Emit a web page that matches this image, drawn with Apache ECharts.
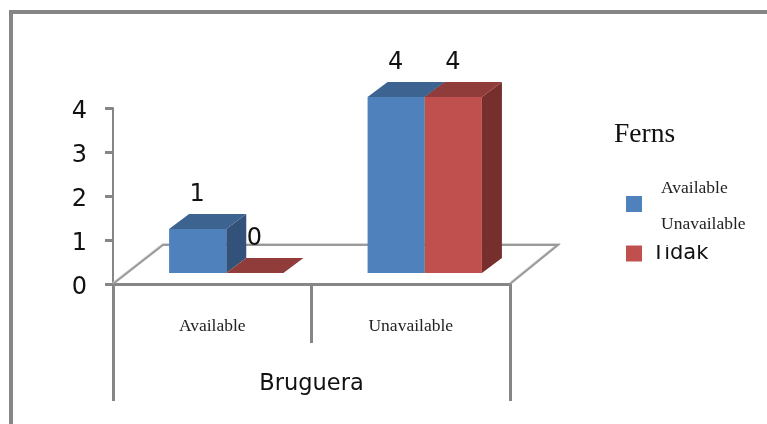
<!DOCTYPE html>
<html><head><meta charset="utf-8">
<style>html,body{margin:0;padding:0;background:#fff}#c{width:767px;height:424px}</style>
<script src="https://cdn.jsdelivr.net/npm/echarts@6/dist/echarts.min.js"></script>
</head><body><div id="c"></div>
<script>
var categories = ['Available', 'Unavailable'];
var groupLabels = ['Bruguera'];
var seriesNames = ['Available', 'Tidak'];
var availableValues = [1, 4];
var tidakValues = [0, 4];
var yTicks = [0, 1, 2, 3, 4];
var legendTitle = 'Ferns';
var overlayLegendText = 'Unavailable';

var GREY = '#868686';
var SANS = '"DejaVu Sans"';
var SERIF = '"Liberation Serif"';
var DX = 20, DY = -15, FRONT = -11, BAR = 0.288, SHIFT = 14;

function poly(pts, fill) {
  return {type: 'polygon', shape: {points: pts}, style: {fill: fill}};
}
function barRender(seriesIndex, face, top, side) {
  return function (params, api) {
    var idx = api.value(0), val = api.value(1);
    var base = api.coord([idx, 0]), head = api.coord([idx, val]);
    var w = api.size([1, 0])[0] * BAR;
    var x0 = base[0] + SHIFT + (seriesIndex === 0 ? -w : 0), x1 = x0 + w;
    var yb = base[1] + FRONT, yt = head[1] + FRONT;
    var children = [];
    if (val > 0) {
      children.push(poly([[x1, yb], [x1 + DX, yb + DY], [x1 + DX, yt + DY], [x1, yt]], side));
      children.push(poly([[x0, yb], [x1, yb], [x1, yt], [x0, yt]], face));
    }
    children.push(poly([[x0, yt], [x1, yt], [x1 + DX, yt + DY], [x0 + DX, yt + DY]], top));
    children.push({type: 'text', z2: 20, style: {
      text: String(val), x: (x0 + x1) / 2 - 0.5, y: yt - 34,
      align: 'center', verticalAlign: 'middle',
      font: '24px ' + SANS, fill: '#111'
    }});
    return {type: 'group', children: children};
  };
}
function floorRender(params, api) {
  var a = api.coord([0, 0]), s = api.size([1, 0])[0];
  var left = a[0] - s / 2, right = left + 2 * s, y = a[1];
  var pts = [[left, y], [left + 50, y - 39], [right + 48, y - 39], [right, y]];
  return {type: 'group', children: [
    {type: 'polyline', shape: {points: pts.map(function (p) { return [p[0], p[1] - 1]; })},
      style: {fill: null, stroke: '#d4d4d4', lineWidth: 2}},
    {type: 'polyline', shape: {points: pts}, style: {fill: null, stroke: '#9a9a9a', lineWidth: 2}}
  ]};
}
function toData(values) { return values.map(function (v, i) { return [i, v]; }); }

var chart = echarts.init(document.getElementById('c'), null, {renderer: 'canvas'});
chart.setOption({
  animation: false,
  backgroundColor: '#fff',
  grid: {left: 113, right: 257, top: 108, bottom: 140},
  xAxis: [{
    type: 'category', data: categories, position: 'bottom',
    axisLine: {lineStyle: {color: GREY, width: 3}},
    axisTick: {show: true, length: 59, lineStyle: {color: GREY, width: 3}},
    axisLabel: {margin: 33, fontFamily: SERIF, fontSize: 17.5, color: '#222'}
  }, {
    type: 'category', data: groupLabels, position: 'bottom',
    axisLine: {show: true, lineStyle: {color: GREY, width: 3}},
    axisTick: {show: true, length: 117, lineStyle: {color: GREY, width: 3}},
    axisLabel: {margin: 89, fontFamily: SANS, fontSize: 22.5, color: '#111'}
  }],
  yAxis: {
    type: 'value', min: 0, max: 4, interval: 1,
    splitLine: {show: false},
    axisLine: {show: true, lineStyle: {color: GREY, width: 2}},
    axisTick: {show: true, length: 8, lineStyle: {color: GREY, width: 3}},
    axisLabel: {margin: 26, color: '#111',
      formatter: function (v) { return '{a|' + yTicks[v] + '}'; },
      rich: {a: {fontFamily: SANS, fontSize: 24, color: '#111', padding: [7, 0, 0, 0]}}}
  },
  legend: {
    left: 626, top: 196, padding: 0, orient: 'vertical', itemWidth: 16, itemHeight: 16, itemGap: 31,
    icon: 'rect', selectedMode: false,
    formatter: function (name) { return name === seriesNames[0] ? '' : name; },
    data: [
      {name: seriesNames[0]},
      {name: seriesNames[1], textStyle: {fontFamily: SANS, fontSize: 21, color: '#111', padding: [0, 0, 0, 5]}}
    ]
  },
  series: [
    {type: 'custom', name: 'floor', renderItem: floorRender, data: [[0, 0]], z: 1, silent: true,
      encode: {x: 0, y: 1}},
    {type: 'custom', name: seriesNames[0], itemStyle: {color: '#4F81BD'}, z: 2,
      renderItem: barRender(0, '#4F81BD', '#3D6390', '#325279'),
      data: toData(availableValues), encode: {x: 0, y: 1}},
    {type: 'custom', name: seriesNames[1], itemStyle: {color: '#C0504D'}, z: 3,
      renderItem: barRender(1, '#C0504D', '#903C3A', '#772F2E'),
      data: toData(tidakValues), encode: {x: 0, y: 1}}
  ],
  graphic: [
    {type: 'polyline', z: 20, shape: {points: [[11, 424], [11, 12], [767, 12]]},
      style: {fill: null, stroke: GREY, lineWidth: 4}},
    {type: 'text', z: 20, left: 614, top: 121, style: {text: legendTitle, font: '27.5px ' + SERIF, fill: '#111'}},
    {type: 'text', z: 21, left: 661, top: 179, style: {text: seriesNames[0], font: '17.5px ' + SERIF, fill: '#222'}},
    {type: 'rect', z: 20, shape: {x: 650, y: 212, width: 100, height: 33}, style: {fill: '#fff'}},
    {type: 'text', z: 21, left: 661, top: 215, style: {text: overlayLegendText, font: '17.5px ' + SERIF, fill: '#222'}}
  ]
});
</script></body></html>
